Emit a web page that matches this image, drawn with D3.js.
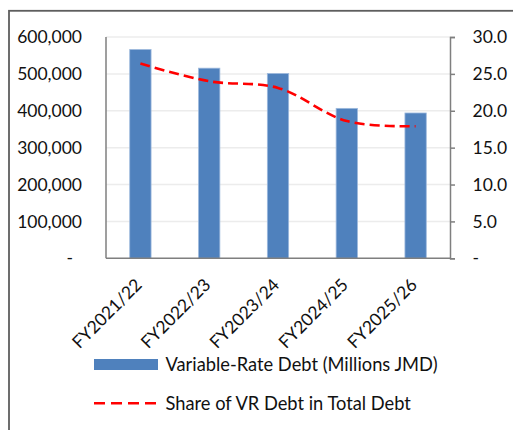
<!DOCTYPE html>
<html><head><meta charset="utf-8">
<script src="https://cdn.jsdelivr.net/npm/d3@7"></script>
<style>
html,body{margin:0;padding:0;background:#fff;}
text{font-family:Lato, "Open Sans", sans-serif;fill:#111;}
</style></head>
<body>
<svg id="chart" width="513" height="430"></svg>
<script>
const categories = ["FY2021/22","FY2022/23","FY2023/24","FY2024/25","FY2025/26"];
const vrDebt = [566000, 515500, 501000, 406500, 394000];
const vrShare = [26.4, 24.0, 23.1, 18.6, 17.9];
const leftTicks = [0,100000,200000,300000,400000,500000,600000];
const rightTicks = [0,5,10,15,20,25,30];
const seriesNames = ["Variable-Rate Debt (Millions JMD)","Share of VR Debt in Total Debt"];

const svg = d3.select("#chart");
const plot = {left:106, right:450, top:37, bottom:258.3};
const FS = 17.5;
const LFS = 18.3;

// frame
svg.append("rect").attr("x",9).attr("y",10.8).attr("width",520).attr("height",440)
  .attr("fill","none").attr("stroke","#5e5e5e").attr("stroke-width",1.8);

const x = d3.scaleBand().domain(categories).range([plot.left,plot.right])
  .paddingInner(0.69).paddingOuter(0.345);
const yL = d3.scaleLinear().domain([0,600000]).range([plot.bottom,plot.top]);
const yR = d3.scaleLinear().domain([0,30]).range([plot.bottom,plot.top]);

// gridlines
svg.append("g").selectAll("line").data(leftTicks.filter(d=>d>0)).join("line")
  .attr("x1",plot.left).attr("x2",plot.right)
  .attr("y1",d=>yL(d)).attr("y2",d=>yL(d))
  .attr("stroke","#ececec").attr("stroke-width",1.5);

// bars
svg.append("g").selectAll("rect").data(vrDebt).join("rect")
  .attr("x",(d,i)=>x(categories[i]))
  .attr("width",x.bandwidth())
  .attr("y",d=>yL(d)).attr("height",d=>plot.bottom-yL(d))
  .attr("fill","#4f81bd").attr("stroke","#9db9dd").attr("stroke-width",0.8);

// axes lines
svg.append("line").attr("x1",plot.left).attr("x2",plot.left).attr("y1",plot.top).attr("y2",plot.bottom)
  .attr("stroke","#7f7f7f").attr("stroke-width",1.5);
svg.append("line").attr("x1",plot.left).attr("x2",plot.right).attr("y1",plot.bottom).attr("y2",plot.bottom)
  .attr("stroke","#7f7f7f").attr("stroke-width",1.5);

// right axis
const rAxis = d3.axisRight(yR).tickValues(rightTicks).tickSize(5).tickFormat(d=>d===0?"-":d3.format(".1f")(d));
const gR = svg.append("g").attr("transform",`translate(${plot.right},0)`).call(rAxis);
gR.select(".domain").attr("stroke","#7f7f7f").attr("stroke-width",1.5);
gR.selectAll(".tick line").attr("stroke","#7f7f7f").attr("stroke-width",1.5);
gR.selectAll(".tick text").attr("x",22.5).attr("font-size",FS).style("font-family","Lato").attr("fill","#111");

// left axis labels
const lAxis = d3.axisLeft(yL).tickValues(leftTicks).tickSize(0).tickFormat(d=>d===0?"-":d3.format(",")(d));
const gL = svg.append("g").attr("transform",`translate(${plot.left},0)`).call(lAxis);
gL.select(".domain").remove();
gL.selectAll(".tick text").attr("x",d=>d===0?-33:-24).attr("font-size",FS).style("font-family","Lato").attr("fill","#111");

// line
const line = d3.line().x((d,i)=>x(categories[i])+x.bandwidth()/2).y(d=>yR(d)).curve(d3.curveCatmullRom.alpha(0.5));
svg.append("path").datum(vrShare).attr("d",line).attr("fill","none")
  .attr("stroke","#ff0000").attr("stroke-width",2.6).attr("stroke-dasharray","10,5");

// x labels
svg.append("g").selectAll("text").data(categories).join("text")
  .attr("transform",d=>`translate(${x(d)+x.bandwidth()/2+2.5},286) rotate(-45)`)
  .attr("text-anchor","end").attr("font-size",FS).text(d=>d);

// legend
const lg = svg.append("g");
lg.append("rect").attr("x",94).attr("y",359).attr("width",64).attr("height",11).attr("fill","#4f81bd");
lg.append("text").attr("x",165.5).attr("y",364.5).attr("dy","0.35em").attr("font-size",LFS).text(seriesNames[0]);
lg.append("line").attr("x1",94).attr("x2",157).attr("y1",403.3).attr("y2",403.3)
  .attr("stroke","#ff0000").attr("stroke-width",2.6).attr("stroke-dasharray","11,6");
lg.append("text").attr("x",165.5).attr("y",403.5).attr("dy","0.35em").attr("font-size",LFS).text(seriesNames[1]);
</script>
</body></html>
